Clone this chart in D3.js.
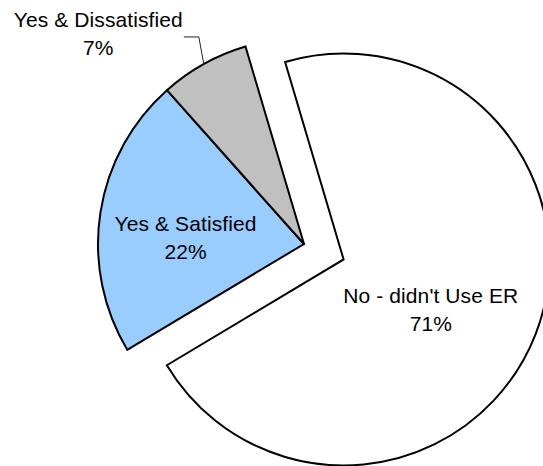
<!DOCTYPE html>
<html>
<head>
<meta charset="utf-8">
<script src="https://cdn.jsdelivr.net/npm/d3@7"></script>
<style>
  html, body { margin: 0; padding: 0; background: #fff; }
  svg { display: block; }
  text { font-family: "Liberation Sans", Arial, sans-serif; font-size: 21px; letter-spacing: 0.1px; fill: #000; }
</style>
</head>
<body>
<svg id="chart" width="543" height="466"></svg>
<script>
// Survey answers: did the respondent use the ER, and were they satisfied?
const categories = ["No - didn't Use ER", "Yes & Satisfied", "Yes & Dissatisfied"];
const values = [71, 22, 7];
const colors = ["#FFFFFF", "#99CCFF", "#C0C0C0"];
const exploded = [true, false, false];

const width = 543, height = 466;
const cx = 304, cy = 244;      // pie centre
const radius = 206;
const explodeDist = 42.5;
const deg = Math.PI / 180;
const startAngle = -16.5 * deg;

// Label placement relative to each slice's own centre:
// angle shift from the slice bisector (degrees) and distance (px)
const labelPlacement = [
  { shift: 8.8, dist: 100.8, outside: false },
  { shift: -5.8, dist: 118.6, outside: false },
  { shift: -15.3, dist: 294, outside: true }
];
const lineGap = 28;

const svg = d3.select("#chart");

const pie = d3.pie()
  .sort(null)
  .value(d => d.value)
  .startAngle(startAngle)
  .endAngle(startAngle + 2 * Math.PI);

const data = categories.map((c, i) => ({ name: c, value: values[i], color: colors[i], exploded: exploded[i] }));
const arcs = pie(data);

const arc = d3.arc().innerRadius(0).outerRadius(radius);

const polar = (a, r) => [Math.sin(a) * r, -Math.cos(a) * r];

const sliceCentre = d => {
  const mid = (d.startAngle + d.endAngle) / 2;
  if (!d.data.exploded) return [cx, cy];
  const [dx, dy] = polar(mid, explodeDist);
  return [cx + dx, cy + dy];
};

const g = svg.append("g");

g.selectAll("path.slice")
  .data(arcs)
  .join("path")
  .attr("class", "slice")
  .attr("transform", d => `translate(${sliceCentre(d)})`)
  .attr("d", arc)
  .attr("fill", d => d.data.color)
  .attr("stroke", "#000")
  .attr("stroke-width", 2)
  .attr("stroke-linejoin", "miter");

// Labels: category name on the first line, share on the second
const total = d3.sum(values);
arcs.forEach((d, i) => {
  const p = labelPlacement[i];
  const mid = (d.startAngle + d.endAngle) / 2;
  const [ox, oy] = sliceCentre(d);
  const [lx, ly] = polar(mid + p.shift * deg, p.dist);
  const x = ox + lx, y = oy + ly;

  const t = svg.append("text")
    .attr("text-anchor", "middle")
    .attr("x", x)
    .attr("y", y - 6.7);
  t.append("tspan").attr("x", x).text(d.data.name);
  t.append("tspan").attr("x", x).attr("dy", lineGap)
    .text(Math.round(d.data.value / total * 100) + "%");

  if (p.outside) {
    // leader line from the slice edge to the label
    const [sx, sy] = polar(mid, radius);
    const start = [ox + sx, oy + sy];
    const bbox = t.node().getBBox();
    const elbowY = y + 3;
    const elbow = [start[0] - 5, elbowY];
    const end = [bbox.x + bbox.width + 1, elbowY];
    svg.append("path")
      .attr("d", d3.line()([start, elbow, end]))
      .attr("fill", "none")
      .attr("stroke", "#222")
      .attr("stroke-width", 1);
  }
});
</script>
</body>
</html>
